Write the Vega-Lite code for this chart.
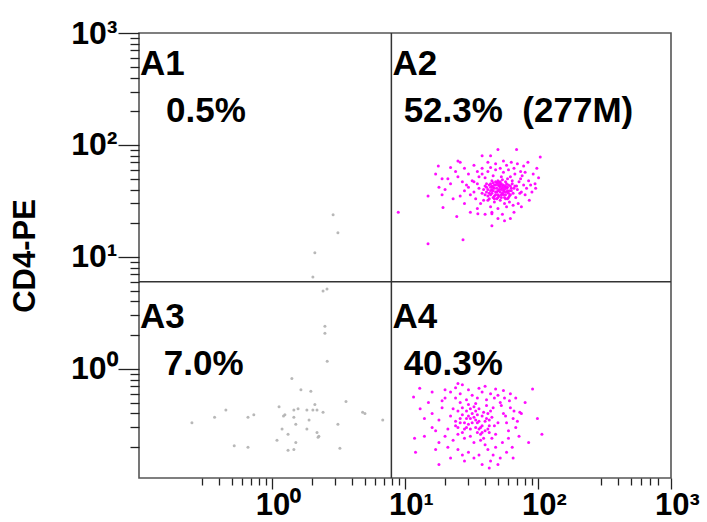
{
  "$schema": "https://vega.github.io/schema/vega-lite/v6.json",
  "autosize": {"type": "none"},
  "width": 532,
  "height": 445,
  "padding": {"left": 139, "top": 33, "right": 36, "bottom": 44},
  "background": "white",
  "config": {
    "view": {"stroke": "#555555", "strokeWidth": 1.6},
    "font": "Liberation Sans"
  },
  "datasets": {
    "pts": [
      {"x":45,"y":40,"g":"pos"},{"x":48,"y":38,"g":"pos"},{"x":52,"y":42,"g":"pos"},{"x":50,"y":36,"g":"pos"},{"x":43,"y":44,"g":"pos"},{"x":55,"y":39,"g":"pos"},{"x":47,"y":35,"g":"pos"},{"x":58,"y":41,"g":"pos"},{"x":41,"y":38,"g":"pos"},{"x":53,"y":45,"g":"pos"},
      {"x":49,"y":33,"g":"pos"},{"x":60,"y":37,"g":"pos"},{"x":44,"y":42,"g":"pos"},{"x":56,"y":34,"g":"pos"},{"x":51,"y":40,"g":"pos"},{"x":46,"y":46,"g":"pos"},{"x":62,"y":43,"g":"pos"},{"x":39,"y":40,"g":"pos"},{"x":54,"y":37,"g":"pos"},{"x":48,"y":44,"g":"pos"},
      {"x":57,"y":47,"g":"pos"},{"x":42,"y":35,"g":"pos"},{"x":59,"y":33,"g":"pos"},{"x":50,"y":48,"g":"pos"},{"x":45,"y":37,"g":"pos"},{"x":63,"y":39,"g":"pos"},{"x":52,"y":32,"g":"pos"},{"x":40,"y":43,"g":"pos"},{"x":47,"y":41,"g":"pos"},{"x":55,"y":44,"g":"pos"},
      {"x":61,"y":35,"g":"pos"},{"x":44,"y":39,"g":"pos"},{"x":53,"y":36,"g":"pos"},{"x":49,"y":46,"g":"pos"},{"x":58,"y":38,"g":"pos"},{"x":43,"y":33,"g":"pos"},{"x":66,"y":41,"g":"pos"},{"x":51,"y":43,"g":"pos"},{"x":46,"y":34,"g":"pos"},{"x":56,"y":42,"g":"pos"},
      {"x":38,"y":37,"g":"pos"},{"x":64,"y":45,"g":"pos"},{"x":50,"y":39,"g":"pos"},{"x":54,"y":49,"g":"pos"},{"x":47,"y":31,"g":"pos"},{"x":60,"y":44,"g":"pos"},{"x":41,"y":45,"g":"pos"},{"x":57,"y":36,"g":"pos"},{"x":45,"y":48,"g":"pos"},{"x":52,"y":38,"g":"pos"},
      {"x":46,"y":39,"g":"pos"},{"x":49,"y":41,"g":"pos"},{"x":53,"y":40,"g":"pos"},{"x":51,"y":35,"g":"pos"},{"x":44,"y":45,"g":"pos"},{"x":56,"y":38,"g":"pos"},{"x":48,"y":36,"g":"pos"},{"x":59,"y":42,"g":"pos"},{"x":42,"y":40,"g":"pos"},{"x":54,"y":43,"g":"pos"},
      {"x":50,"y":34,"g":"pos"},{"x":61,"y":39,"g":"pos"},{"x":45,"y":43,"g":"pos"},{"x":57,"y":33,"g":"pos"},{"x":52,"y":47,"g":"pos"},{"x":47,"y":44,"g":"pos"},{"x":63,"y":41,"g":"pos"},{"x":40,"y":36,"g":"pos"},{"x":55,"y":36,"g":"pos"},{"x":49,"y":38,"g":"pos"},
      {"x":58,"y":45,"g":"pos"},{"x":43,"y":37,"g":"pos"},{"x":60,"y":34,"g":"pos"},{"x":51,"y":46,"g":"pos"},{"x":46,"y":42,"g":"pos"},{"x":65,"y":37,"g":"pos"},{"x":53,"y":34,"g":"pos"},{"x":41,"y":42,"g":"pos"},{"x":48,"y":47,"g":"pos"},{"x":56,"y":40,"g":"pos"},
      {"x":62,"y":36,"g":"pos"},{"x":44,"y":36,"g":"pos"},{"x":54,"y":41,"g":"pos"},{"x":50,"y":44,"g":"pos"},{"x":59,"y":39,"g":"pos"},{"x":42,"y":32,"g":"pos"},{"x":67,"y":43,"g":"pos"},{"x":52,"y":44,"g":"pos"},{"x":47,"y":33,"g":"pos"},{"x":57,"y":43,"g":"pos"},
      {"x":35,"y":45,"g":"pos"},{"x":33,"y":38,"g":"pos"},{"x":36,"y":52,"g":"pos"},{"x":70,"y":40,"g":"pos"},{"x":72,"y":47,"g":"pos"},{"x":68,"y":34,"g":"pos"},{"x":75,"y":38,"g":"pos"},{"x":30,"y":42,"g":"pos"},{"x":32,"y":48,"g":"pos"},{"x":38,"y":55,"g":"pos"},
      {"x":42,"y":58,"g":"pos"},{"x":48,"y":60,"g":"pos"},{"x":55,"y":57,"g":"pos"},{"x":62,"y":52,"g":"pos"},{"x":67,"y":55,"g":"pos"},{"x":74,"y":50,"g":"pos"},{"x":78,"y":44,"g":"pos"},{"x":80,"y":36,"g":"pos"},{"x":71,"y":30,"g":"pos"},{"x":65,"y":29,"g":"pos"},
      {"x":58,"y":28,"g":"pos"},{"x":50,"y":27,"g":"pos"},{"x":44,"y":28,"g":"pos"},{"x":37,"y":30,"g":"pos"},{"x":34,"y":33,"g":"pos"},{"x":31,"y":36,"g":"pos"},{"x":29,"y":44,"g":"pos"},{"x":28,"y":39,"g":"pos"},{"x":40,"y":51,"g":"pos"},{"x":46,"y":53,"g":"pos"},
      {"x":53,"y":52,"g":"pos"},{"x":59,"y":50,"g":"pos"},{"x":64,"y":48,"g":"pos"},{"x":69,"y":43,"g":"pos"},{"x":73,"y":37,"g":"pos"},{"x":61,"y":31,"g":"pos"},{"x":56,"y":30,"g":"pos"},{"x":39,"y":32,"g":"pos"},{"x":36,"y":41,"g":"pos"},{"x":33,"y":47,"g":"pos"},
      {"x":76,"y":53,"g":"pos"},{"x":82,"y":41,"g":"pos"},{"x":85,"y":48,"g":"pos"},{"x":27,"y":47,"g":"pos"},{"x":26,"y":35,"g":"pos"},{"x":35,"y":58,"g":"pos"},{"x":44,"y":63,"g":"pos"},{"x":52,"y":62,"g":"pos"},{"x":60,"y":60,"g":"pos"},{"x":66,"y":62,"g":"pos"},
      {"x":74,"y":58,"g":"pos"},{"x":80,"y":57,"g":"pos"},{"x":88,"y":44,"g":"pos"},{"x":90,"y":38,"g":"pos"},{"x":70,"y":68,"g":"pos"},{"x":58,"y":66,"g":"pos"},{"x":48,"y":68,"g":"pos"},{"x":38,"y":62,"g":"pos"},{"x":30,"y":55,"g":"pos"},{"x":25,"y":52,"g":"pos"},
      {"x":22,"y":45,"g":"pos"},{"x":20,"y":40,"g":"pos"},{"x":23,"y":33,"g":"pos"},{"x":24,"y":58,"g":"pos"},{"x":28,"y":62,"g":"pos"},{"x":33,"y":66,"g":"pos"},{"x":42,"y":70,"g":"pos"},{"x":55,"y":72,"g":"pos"},{"x":63,"y":70,"g":"pos"},{"x":78,"y":65,"g":"pos"},
      {"x":92,"y":55,"g":"pos"},{"x":95,"y":45,"g":"pos"},{"x":86,"y":32,"g":"pos"},{"x":75,"y":28,"g":"pos"},{"x":66,"y":25,"g":"pos"},{"x":45,"y":25,"g":"pos"},{"x":35,"y":27,"g":"pos"},{"x":28,"y":30,"g":"pos"},{"x":21,"y":50,"g":"pos"},{"x":19,"y":36,"g":"pos"},
      {"x":17,"y":55,"g":"pos"},{"x":22,"y":63,"g":"pos"},{"x":26,"y":70,"g":"pos"},{"x":98,"y":62,"g":"pos"},{"x":84,"y":70,"g":"pos"},{"x":18,"y":42,"g":"pos"},{"x":31,"y":25,"g":"pos"},{"x":40,"y":24,"g":"pos"},{"x":54,"y":24,"g":"pos"},{"x":62,"y":22,"g":"pos"},
      {"x":14.9,"y":13.1,"g":"pos"},{"x":27.3,"y":14.2,"g":"pos"},{"x":45,"y":19,"g":"pos"},{"x":14.9,"y":35,"g":"pos"},{"x":17.8,"y":65,"g":"pos"},{"x":50,"y":91,"g":"pos"},{"x":69,"y":91,"g":"pos"},{"x":104,"y":78,"g":"pos"},{"x":25,"y":72,"g":"pos"},{"x":38,"y":80,"g":"pos"},
      {"x":44,"y":80,"g":"pos"},{"x":96,"y":41,"g":"pos"},{"x":101,"y":51,"g":"pos"},{"x":19,"y":50,"g":"pos"},{"x":19.3,"y":27.6,"g":"pos"},{"x":24.5,"y":23,"g":"pos"},{"x":35.3,"y":24.3,"g":"pos"},{"x":45,"y":24.3,"g":"pos"},{"x":50,"y":22,"g":"pos"},{"x":56,"y":21,"g":"pos"},
      {"x":8.9,"y":25,"g":"pos"},

      {"x":30,"y":0.32,"g":"pos"},{"x":34,"y":0.35,"g":"pos"},{"x":28,"y":0.29,"g":"pos"},{"x":37,"y":0.30,"g":"pos"},{"x":32,"y":0.40,"g":"pos"},{"x":26,"y":0.36,"g":"pos"},{"x":40,"y":0.34,"g":"pos"},{"x":29,"y":0.42,"g":"pos"},{"x":35,"y":0.27,"g":"pos"},{"x":31,"y":0.25,"g":"pos"},
      {"x":38,"y":0.38,"g":"pos"},{"x":24,"y":0.31,"g":"pos"},{"x":42,"y":0.29,"g":"pos"},{"x":27,"y":0.45,"g":"pos"},{"x":33,"y":0.22,"g":"pos"},{"x":45,"y":0.37,"g":"pos"},{"x":36,"y":0.44,"g":"pos"},{"x":25,"y":0.26,"g":"pos"},{"x":39,"y":0.24,"g":"pos"},{"x":30,"y":0.48,"g":"pos"},
      {"x":44,"y":0.42,"g":"pos"},{"x":22,"y":0.38,"g":"pos"},{"x":47,"y":0.31,"g":"pos"},{"x":29,"y":0.36,"g":"pos"},{"x":34,"y":0.30,"g":"pos"},{"x":41,"y":0.47,"g":"pos"},{"x":23,"y":0.44,"g":"pos"},{"x":48,"y":0.26,"g":"pos"},{"x":32,"y":0.33,"g":"pos"},{"x":37,"y":0.23,"g":"pos"},
      {"x":26,"y":0.50,"g":"pos"},{"x":43,"y":0.35,"g":"pos"},{"x":28,"y":0.24,"g":"pos"},{"x":35,"y":0.39,"g":"pos"},{"x":31,"y":0.29,"g":"pos"},{"x":46,"y":0.45,"g":"pos"},{"x":24,"y":0.34,"g":"pos"},{"x":39,"y":0.41,"g":"pos"},{"x":33,"y":0.46,"g":"pos"},{"x":27,"y":0.27,"g":"pos"},
      {"x":50,"y":0.33,"g":"pos"},{"x":21,"y":0.29,"g":"pos"},{"x":36,"y":0.34,"g":"pos"},{"x":30,"y":0.38,"g":"pos"},{"x":40,"y":0.28,"g":"pos"},{"x":25,"y":0.42,"g":"pos"},{"x":45,"y":0.24,"g":"pos"},{"x":34,"y":0.49,"g":"pos"},{"x":28,"y":0.33,"g":"pos"},{"x":38,"y":0.31,"g":"pos"},
      {"x":29,"y":0.30,"g":"pos"},{"x":33,"y":0.37,"g":"pos"},{"x":36,"y":0.29,"g":"pos"},{"x":27,"y":0.39,"g":"pos"},{"x":41,"y":0.36,"g":"pos"},{"x":31,"y":0.44,"g":"pos"},{"x":38,"y":0.27,"g":"pos"},{"x":25,"y":0.30,"g":"pos"},{"x":43,"y":0.27,"g":"pos"},{"x":35,"y":0.33,"g":"pos"},
      {"x":18,"y":0.35,"g":"pos"},{"x":17,"y":0.28,"g":"pos"},{"x":19,"y":0.45,"g":"pos"},{"x":20,"y":0.55,"g":"pos"},{"x":16,"y":0.40,"g":"pos"},{"x":55,"y":0.40,"g":"pos"},{"x":58,"y":0.33,"g":"pos"},{"x":60,"y":0.28,"g":"pos"},{"x":52,"y":0.50,"g":"pos"},{"x":56,"y":0.55,"g":"pos"},
      {"x":62,"y":0.45,"g":"pos"},{"x":65,"y":0.36,"g":"pos"},{"x":68,"y":0.30,"g":"pos"},{"x":50,"y":0.58,"g":"pos"},{"x":44,"y":0.60,"g":"pos"},{"x":38,"y":0.62,"g":"pos"},{"x":32,"y":0.58,"g":"pos"},{"x":26,"y":0.60,"g":"pos"},{"x":22,"y":0.62,"g":"pos"},{"x":19,"y":0.52,"g":"pos"},
      {"x":18,"y":0.22,"g":"pos"},{"x":21,"y":0.20,"g":"pos"},{"x":25,"y":0.19,"g":"pos"},{"x":30,"y":0.18,"g":"pos"},{"x":36,"y":0.17,"g":"pos"},{"x":42,"y":0.19,"g":"pos"},{"x":48,"y":0.20,"g":"pos"},{"x":54,"y":0.22,"g":"pos"},{"x":60,"y":0.24,"g":"pos"},{"x":64,"y":0.20,"g":"pos"},
      {"x":20,"y":0.25,"g":"pos"},{"x":23,"y":0.23,"g":"pos"},{"x":40,"y":0.21,"g":"pos"},{"x":46,"y":0.17,"g":"pos"},{"x":52,"y":0.16,"g":"pos"},{"x":33,"y":0.16,"g":"pos"},{"x":27,"y":0.17,"g":"pos"},{"x":24,"y":0.55,"g":"pos"},{"x":29,"y":0.53,"g":"pos"},{"x":35,"y":0.55,"g":"pos"},
      {"x":41,"y":0.53,"g":"pos"},{"x":47,"y":0.55,"g":"pos"},{"x":53,"y":0.47,"g":"pos"},{"x":57,"y":0.38,"g":"pos"},{"x":61,"y":0.52,"g":"pos"},{"x":66,"y":0.42,"g":"pos"},{"x":70,"y":0.34,"g":"pos"},{"x":16,"y":0.30,"g":"pos"},{"x":15,"y":0.50,"g":"pos"},{"x":14,"y":0.36,"g":"pos"},
      {"x":17,"y":0.19,"g":"pos"},{"x":22,"y":0.16,"g":"pos"},{"x":28,"y":0.15,"g":"pos"},{"x":44,"y":0.15,"g":"pos"},{"x":58,"y":0.18,"g":"pos"},{"x":62,"y":0.60,"g":"pos"},{"x":55,"y":0.64,"g":"pos"},{"x":48,"y":0.66,"g":"pos"},{"x":36,"y":0.67,"g":"pos"},{"x":30,"y":0.65,"g":"pos"},
      {"x":24,"y":0.68,"g":"pos"},{"x":20,"y":0.65,"g":"pos"},{"x":16,"y":0.62,"g":"pos"},{"x":14,"y":0.25,"g":"pos"},{"x":13,"y":0.44,"g":"pos"},{"x":72,"y":0.25,"g":"pos"},{"x":75,"y":0.40,"g":"pos"},{"x":68,"y":0.55,"g":"pos"},{"x":40,"y":0.70,"g":"pos"},{"x":27,"y":0.72,"g":"pos"},
      {"x":18,"y":0.14,"g":"pos"},{"x":38,"y":0.14,"g":"pos"},{"x":50,"y":0.14,"g":"pos"},{"x":65,"y":0.16,"g":"pos"},{"x":34,"y":0.42,"g":"pos"},{"x":31,"y":0.36,"g":"pos"},{"x":43,"y":0.31,"g":"pos"},{"x":37,"y":0.26,"g":"pos"},{"x":26,"y":0.33,"g":"pos"},{"x":42,"y":0.40,"g":"pos"},
      {"x":91,"y":0.66,"g":"pos"},{"x":99,"y":0.36,"g":"pos"},{"x":107,"y":0.26,"g":"pos"},{"x":73,"y":0.41,"g":"pos"},{"x":11.8,"y":0.24,"g":"pos"},{"x":11.6,"y":0.56,"g":"pos"},{"x":43,"y":0.13,"g":"pos"},{"x":25,"y":0.74,"g":"pos"},{"x":12.9,"y":0.67,"g":"pos"},{"x":80,"y":0.5,"g":"pos"},
      {"x":85,"y":0.22,"g":"pos"},{"x":12,"y":0.18,"g":"pos"},

      {"x":2.88,"y":23.8,"g":"neg"},{"x":3.13,"y":16.4,"g":"neg"},{"x":2.1,"y":10.9,"g":"neg"},{"x":2.03,"y":6.6,"g":"neg"},
      {"x":2.42,"y":4.95,"g":"neg"},{"x":2.59,"y":5.16,"g":"neg"},{"x":2.5,"y":2.4,"g":"neg"},{"x":2.5,"y":2.08,"g":"neg"},{"x":2.6,"y":1.17,"g":"neg"},
      {"x":1.41,"y":0.82,"g":"neg"},{"x":1.65,"y":0.65,"g":"neg"},{"x":1.96,"y":0.63,"g":"neg"},{"x":3.6,"y":0.51,"g":"neg"},{"x":2.1,"y":0.48,"g":"neg"},{"x":1.13,"y":0.46,"g":"neg"},
      {"x":1.57,"y":0.44,"g":"neg"},{"x":1.46,"y":0.43,"g":"neg"},{"x":1.83,"y":0.43,"g":"neg"},{"x":2.03,"y":0.43,"g":"neg"},{"x":2.18,"y":0.43,"g":"neg"},{"x":2.42,"y":0.41,"g":"neg"},
      {"x":1.25,"y":0.39,"g":"neg"},{"x":1.22,"y":0.38,"g":"neg"},{"x":0.45,"y":0.43,"g":"neg"},{"x":0.73,"y":0.39,"g":"neg"},{"x":0.66,"y":0.37,"g":"neg"},{"x":0.37,"y":0.37,"g":"neg"},
      {"x":0.25,"y":0.33,"g":"neg"},{"x":1.46,"y":0.37,"g":"neg"},{"x":1.9,"y":0.35,"g":"neg"},{"x":1.51,"y":0.32,"g":"neg"},{"x":3.13,"y":0.32,"g":"neg"},{"x":4.8,"y":0.41,"g":"neg"},
      {"x":5.0,"y":0.40,"g":"neg"},{"x":6.8,"y":0.35,"g":"neg"},{"x":1.83,"y":0.29,"g":"neg"},{"x":1.19,"y":0.29,"g":"neg"},{"x":1.32,"y":0.26,"g":"neg"},{"x":2.18,"y":0.27,"g":"neg"},
      {"x":2.25,"y":0.25,"g":"neg"},{"x":2.22,"y":0.245,"g":"neg"},{"x":1.09,"y":0.23,"g":"neg"},{"x":1.51,"y":0.22,"g":"neg"},{"x":0.52,"y":0.206,"g":"neg"},{"x":0.66,"y":0.20,"g":"neg"},
      {"x":3.24,"y":0.195,"g":"neg"},{"x":1.46,"y":0.19,"g":"neg"},{"x":1.32,"y":0.188,"g":"neg"}
    ],
    "labels": [
      {"label":"A1","x":0.1,"y":420},
      {"label":"0.5%","x":0.157,"y":160},
      {"label":"A2","x":7.9,"y":420},
      {"label":"52.3%\u00a0\u00a0(277M)","x":9.6,"y":160},
      {"label":"A3","x":0.1,"y":2.31},
      {"label":"7.0%","x":0.151,"y":0.89},
      {"label":"A4","x":7.9,"y":2.31},
      {"label":"40.3%","x":9.6,"y":0.89}
    ]
  },
  "layer": [
    {
      "data": {"name": "pts"},
      "mark": {"type": "circle", "size": 9, "opacity": 0.95},
      "encoding": {
        "x": {
          "field": "x", "type": "quantitative",
          "scale": {"type": "log", "domain": [0.1, 1000], "nice": false},
          "axis": {
            "title": null,
            "domain": false,
            "grid": false,
            "values": [0.3,0.4,0.5,0.6,0.7,0.8,0.9,1,2,3,4,5,6,7,8,9,10,20,30,40,50,60,70,80,90,100,300,400,500,600,700,800,1000],
            "labelExpr": "datum.value == 1 ? '10⁰' : datum.value == 10 ? '10¹' : datum.value == 100 ? '10²' : datum.value == 1000 ? '10³' : ''",
            "tickSize": {"condition": {"test": "indexof([1,10,100,1000], datum.value) >= 0", "value": 11}, "value": 7},
            "tickColor": "#222222",
            "tickWidth": 1.3,
            "labelFont": "Liberation Sans",
            "labelFontWeight": "bold",
            "labelFontSize": 31,
            "labelColor": "#000000",
            "labelBaseline": "top",
            "labelPadding": 1,
            "labelOffset": 6,
            "labelFlush": false,
            "labelOverlap": false,
            "labelBound": false
          }
        },
        "y": {
          "field": "y", "type": "quantitative",
          "scale": {"type": "log", "domain": [0.106, 1000], "nice": false},
          "axis": {
            "title": "CD4-PE",
            "titleFont": "Liberation Sans",
            "titleFontWeight": "bold",
            "titleFontSize": 31,
            "titleColor": "#000000",
            "titleX": -114,
            "titleBaseline": "middle",
            "domain": false,
            "grid": false,
            "values": [0.2,0.3,0.4,0.5,0.6,0.7,0.8,0.9,1,2,3,4,5,6,7,8,9,10,20,30,40,50,60,70,80,90,100,200,300,400,500,600,700,800,900,1000],
            "labelExpr": "datum.value == 1 ? '10⁰' : datum.value == 10 ? '10¹' : datum.value == 100 ? '10²' : datum.value == 1000 ? '10³' : ''",
            "tickSize": {"condition": {"test": "indexof([1,10,100,1000], datum.value) >= 0", "value": 21}, "value": 9},
            "tickColor": "#222222",
            "tickWidth": 1.3,
            "labelFont": "Liberation Sans",
            "labelFontWeight": "bold",
            "labelFontSize": 32,
            "labelColor": "#000000",
            "labelPadding": 1,
            "labelFlush": false,
            "labelOverlap": false,
            "labelBound": false
          }
        },
        "color": {
          "field": "g", "type": "nominal",
          "scale": {"domain": ["pos", "neg"], "range": ["#ff00ff", "#b4b4b4"]},
          "legend": null
        }
      }
    },
    {
      "data": {"values": [{"qx": 7.9}]},
      "mark": {"type": "rule", "color": "#333333", "strokeWidth": 1.5},
      "encoding": {"x": {"field": "qx", "type": "quantitative"}}
    },
    {
      "data": {"values": [{"qy": 6.0}]},
      "mark": {"type": "rule", "color": "#333333", "strokeWidth": 1.5},
      "encoding": {"y": {"field": "qy", "type": "quantitative"}}
    },
    {
      "data": {"name": "labels"},
      "mark": {"type": "text", "align": "left", "baseline": "alphabetic", "font": "Liberation Sans", "fontWeight": "bold", "fontSize": 35, "color": "#000000", "dx": 1},
      "encoding": {
        "x": {"field": "x", "type": "quantitative"},
        "y": {"field": "y", "type": "quantitative"},
        "text": {"field": "label", "type": "nominal"}
      }
    }
  ]
}
